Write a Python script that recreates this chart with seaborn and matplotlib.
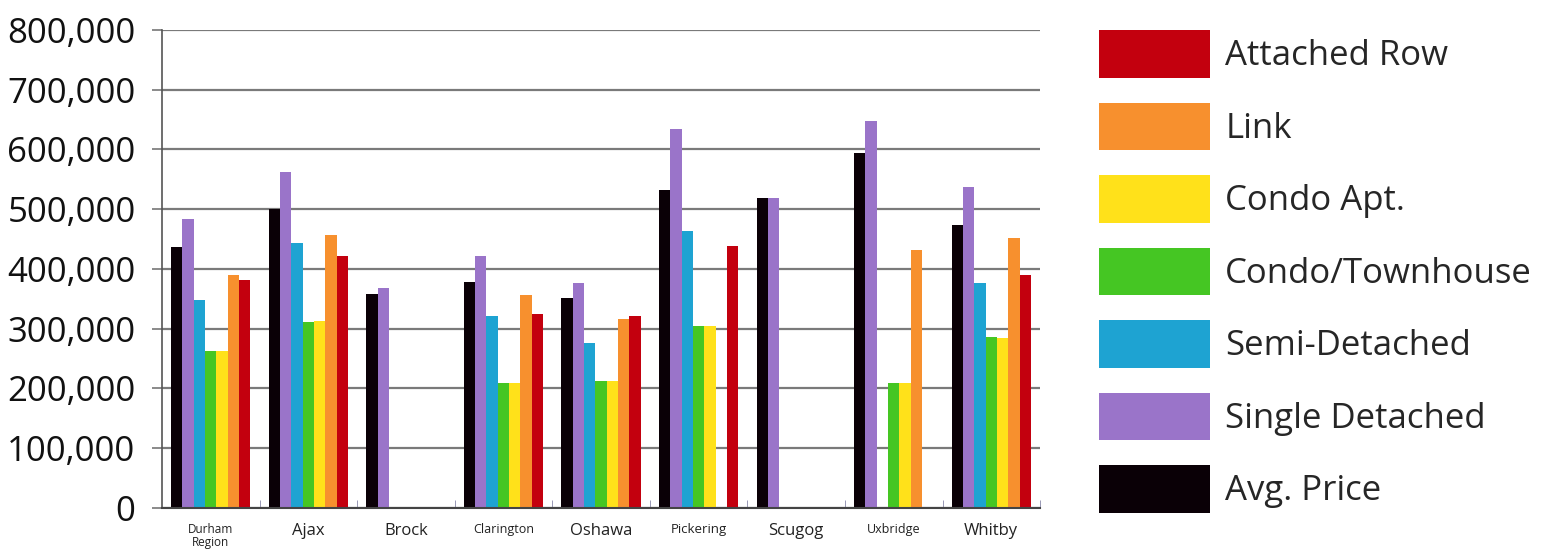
# Average house prices by municipality and dwelling type, Durham Region
import numpy as np
import pandas as pd
import matplotlib
matplotlib.use("Agg")
import matplotlib.pyplot as plt
import seaborn as sns
from matplotlib.ticker import StrMethodFormatter, MultipleLocator

# Data
regions = ["Durham\nRegion", "Ajax", "Brock", "Clarington", "Oshawa",
           "Pickering", "Scugog", "Uxbridge", "Whitby"]
types = ["Avg. Price", "Single Detached", "Semi-Detached", "Condo/Townhouse",
         "Condo Apt.", "Link", "Attached Row"]
nan = np.nan
avg_price = [437000, 501000, 358000, 379000, 352000, 533000, 518000, 594000, 474000]
single_detached = [483000, 563000, 368000, 421000, 377000, 634000, 518000, 647000, 538000]
semi_detached = [348000, 444000, nan, 322000, 276000, 464000, nan, nan, 377000]
condo_townhouse = [263000, 312000, nan, 209000, 212000, 305000, nan, 209000, 286000]
condo_apt = [262000, 313000, nan, 209000, 212000, 305000, nan, 210000, 285000]
link = [390000, 457000, nan, 356000, 316000, nan, nan, 432000, 452000]
attached_row = [381000, 422000, nan, 324000, 321000, 438000, nan, nan, 390000]
label_sizes = [8.5, 12, 12, 9, 12, 9.5, 12, 9, 12]

colors = ["#0a0006", "#9a74c9", "#1ea3d2", "#45c623", "#ffe11a", "#f7902e", "#c3000e"]

series = [avg_price, single_detached, semi_detached, condo_townhouse,
          condo_apt, link, attached_row]
rows = []
for t, vals in zip(types, series):
    for r, v in zip(regions, vals):
        rows.append({"region": r, "type": t, "price": v})
df = pd.DataFrame(rows)

sns.set_style("white")
plt.rcParams["font.family"] = ["Open Sans", "DejaVu Sans"]

fig = plt.figure(figsize=(15.57, 5.5), dpi=100)
ax = fig.add_axes([0.104, 0.0764, 0.564, 0.8691])

sns.barplot(data=df, x="region", y="price", hue="type", order=regions,
            hue_order=types, palette=colors, saturation=1, width=0.81,
            linewidth=0, legend=True, ax=ax)

ax.set_ylim(0, 800000)
ax.set_xlim(-0.5, len(regions) - 0.5)
ax.yaxis.set_major_locator(MultipleLocator(100000))
ax.yaxis.set_major_formatter(StrMethodFormatter("{x:,.0f}"))
ax.set_axisbelow(True)
ax.grid(axis="y", color="#7a7a7a", linewidth=1.6)
ax.grid(axis="x", visible=False)
ax.set_xlabel("")
ax.set_ylabel("")

for side in ["top", "right"]:
    ax.spines[side].set_visible(False)
ax.spines["left"].set_color("#555555")
ax.spines["bottom"].set_color("#444444")
ax.spines["left"].set_linewidth(1.2)
ax.spines["bottom"].set_linewidth(1.5)

ax.tick_params(axis="y", labelsize=25, length=7, width=1.2, color="#777777",
               pad=12, left=True, labelcolor="#111111")
ax.tick_params(axis="x", length=0, pad=11, labelcolor="#222222")
ax.set_xticks(np.arange(len(regions)) + 0.5, minor=True)
ax.tick_params(axis="x", which="minor", direction="in", length=6,
               color="#8888aa", bottom=True)
for lab, fs in zip(ax.get_xticklabels(), label_sizes):
    lab.set_fontsize(fs)
    lab.set_linespacing(0.95)
    lab.set_verticalalignment("top")

handles, labels = ax.get_legend_handles_labels()
ax.get_legend().remove()
fig.legend(handles[::-1], labels[::-1], loc="upper left",
           bbox_to_anchor=(0.7059, 0.9455), frameon=False, fontsize=25,
           handlelength=3.2, handleheight=1.73, labelspacing=0.72,
           handletextpad=0.43, borderpad=0, borderaxespad=0)

fig.savefig("out.png", dpi=100)
